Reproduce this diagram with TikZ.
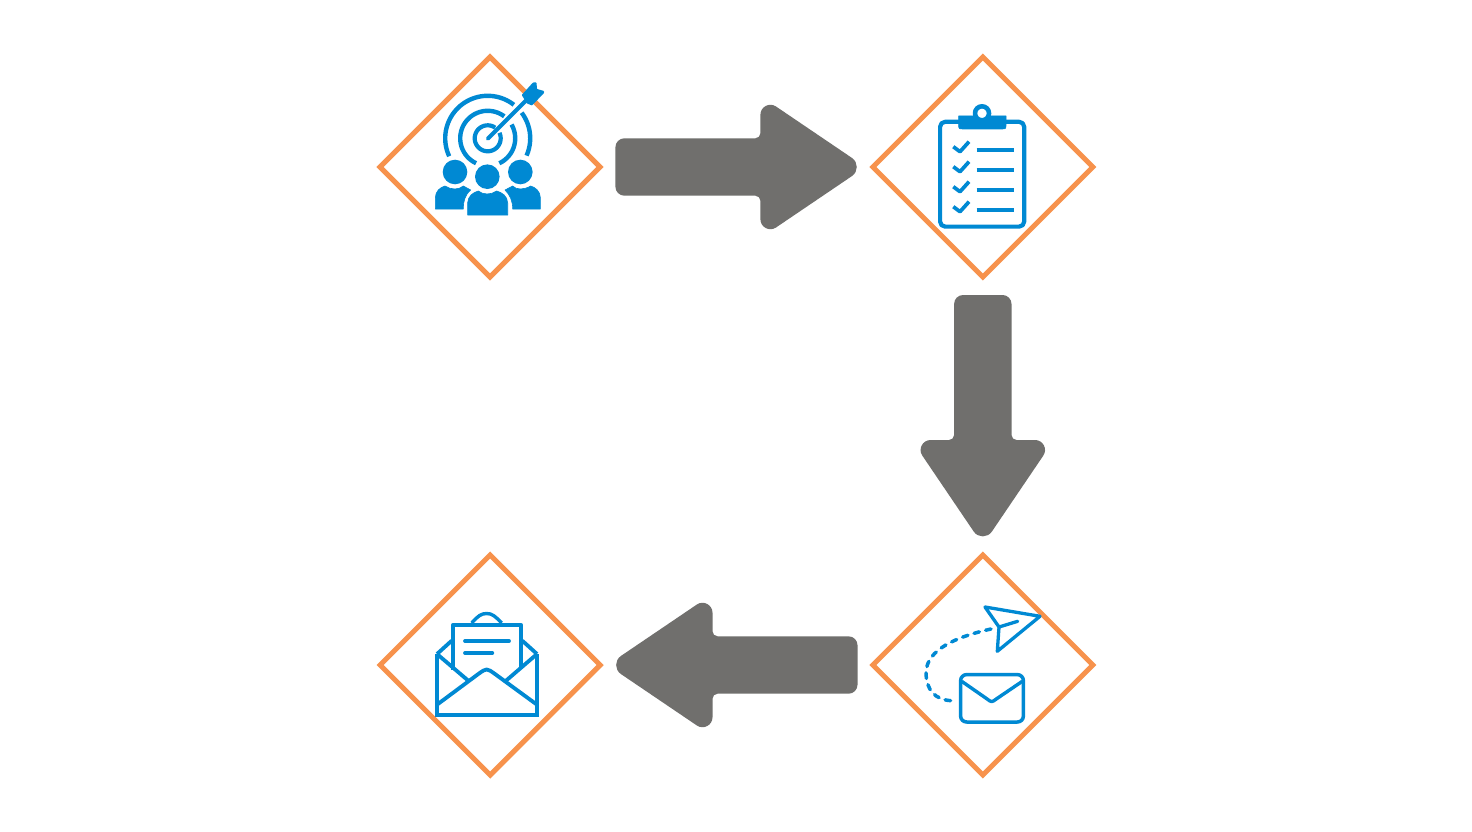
\documentclass[tikz,border=0pt]{standalone}
\usetikzlibrary{shapes.geometric,calc}
\definecolor{frameorange}{HTML}{F7924C}
\definecolor{arrowgray}{HTML}{706F6D}
\definecolor{iconblue}{HTML}{0089D3}
\tikzset{
  frame/.style={shape=diamond,shape aspect=1,draw=frameorange,line width=5pt,fill=white,
    minimum width=220pt,minimum height=220pt,inner sep=0pt,outer sep=0pt,miter limit=10},
  icon/.style={draw=iconblue,line join=round},
  iconfill/.style={fill=iconblue,draw=iconblue,line width=0.6pt,line join=round},
  blockarrow/.pic={
    \fill[arrowgray] (-121,0) -- (-121,-19.7) .. controls (-121,-24.7) and (-117,-28.7) .. (-112,-28.7)
      -- (19,-28.7) .. controls (21.75,-28.7) and (24,-31) .. (24,-33.7)
      -- (24,-52.2) .. controls (24,-60.2) and (33,-65) .. (39.6,-60.5)
      -- (115.5,-9.1) .. controls (122,-4.7) and (122,4.7) .. (115.5,9.1)
      -- (39.6,60.5) .. controls (33,65) and (24,60.2) .. (24,52.2)
      -- (24,33.7) .. controls (24,31) and (21.75,28.7) .. (19,28.7)
      -- (-112,28.7) .. controls (-117,28.7) and (-121,24.7) .. (-121,19.7) -- cycle;
  }
}
\newcommand{\ringarc}[6]{% cx cy r from to width
  \draw[draw=iconblue,line width=#6pt,smooth] plot[domain=#4:#5,samples=40] ({#1+#3*cos(\x)},{#2-#3*sin(\x)});}
\begin{document}
\begin{tikzpicture}[x=1pt,y=-1pt]
\useasboundingbox (0,0) rectangle (1472,832);
\fill[white] (0,0) rectangle (1472,832);
\node[frame] (a) at (490,167) {};
\node[frame] (b) at (982.8,167) {};
\node[frame] (c) at (982.8,665) {};
\node[frame] (d) at (490.2,665) {};
\pic at ($(a)!0.5!(b)$) {blockarrow};
\pic[rotate=-90] at ($(b)!0.5!(c)$) {blockarrow};
\pic[rotate=180] at ($(c)!0.5!(d)$) {blockarrow};
% target and people
\ringarc{487.7}{138.3}{42.5}{52}{205}{4.4}
\ringarc{487.7}{138.3}{42.5}{-24}{37}{4.4}
\ringarc{487.7}{138.3}{27.5}{53}{245}{4.4}
\ringarc{487.7}{138.3}{27.5}{-65}{30}{4.4}
\ringarc{487.7}{138.3}{13}{55}{385}{4.2}
\draw[icon,line width=3.9pt,line cap=round] (487.7,138.8) -- (526,100.5);
\fill[iconblue,rounded corners=0.6pt] (521.7,95) -- (533,82.5) -- (536.5,82.5) -- (537,89) -- (544,91) -- (544,93) -- (532,105.5) -- (527,103.5) -- cycle;
\fill[iconblue] (455,172) circle[radius=12.3];
\fill[iconblue] (487.3,176.7) circle[radius=12.3];
\fill[iconblue] (520.3,172) circle[radius=12.3];
\filldraw[iconfill] (435.3,209) -- (435.3,198) .. controls (435.5,191) and (440,187.5) .. (445,186) .. controls (451,190) and (459,190) .. (463.3,186) -- (470.7,190) .. controls (465,195) and (463.3,201) .. (463.3,209) -- cycle;
\filldraw[iconfill] (467.6,215) -- (467.6,203) .. controls (468,196) and (473,192.5) .. (478.3,191) .. controls (483,195) and (491,195) .. (496.7,191) .. controls (502,192.5) and (507.5,196) .. (507.7,203) -- (507.7,215) -- cycle;
\filldraw[iconfill] (540.4,209) -- (540.4,198) .. controls (540.2,191) and (535.5,187.5) .. (530.7,186) .. controls (524,190) and (516,190) .. (512.7,186) -- (505,190) .. controls (510,195) and (512.7,201) .. (512.7,209) -- cycle;
% clipboard
\draw[icon,line width=4.2pt,rounded corners=5pt] (940.1,121.8) rectangle (1024.2,226.6);
\filldraw[iconfill] (958.6,116) -- (1006,116) -- (1006,124) .. controls (1006,129) .. (1001,129) -- (964,129) .. controls (958.6,129) .. (958.6,124) -- cycle;
\draw[icon,line width=4.6pt,fill=white] (982,113.3) circle[radius=7];
\foreach \d in {0,20,40,60}{
  \draw[icon,line width=3.7pt] (953.3,146.7+\d) -- (960,151.7+\d) -- (969,141.7+\d);
  \draw[icon,line width=4.3pt] (976.7,150.3+\d) -- (1014.3,150.3+\d);
}
% paper plane and envelope
\draw[icon,line width=3.3pt] (985,607) -- (1040,616.3) -- (997.3,651.3) -- (999,627) -- cycle;
\draw[icon,line width=3.3pt,line cap=round] (999,627) -- (1017.7,621.3);
\draw[icon,line width=3.5pt,line cap=round,dash pattern=on 5.5pt off 6.5pt] (991,629) .. controls (955,637) and (927,650) .. (926,672) .. controls (926,690) and (935,700) .. (951.7,700.7);
\draw[icon,line width=3.5pt,rounded corners=6pt] (960.6,674.6) rectangle (1023.4,722);
\draw[icon,line width=3.4pt] (961.7,681.3) -- (986.7,698.7) .. controls (991.7,702.5) .. (996.7,698.7) -- (1022.3,681.3);
% open envelope
\draw[icon,line width=4pt,line join=miter] (437,654) -- (437,714.7) -- (537,714.7) -- (537,654);
\draw[icon,line width=3.8pt] (437,654) -- (451.7,640.7);
\draw[icon,line width=3.8pt] (537,654) -- (522.3,640.7);
\draw[icon,line width=3.8pt] (453.3,669.7) -- (453.3,624.7) -- (520.7,624.7) -- (520.7,668);
\draw[icon,line width=3.4pt] (471.7,623) .. controls (478,616) and (481,613.5) .. (486.7,613.5) .. controls (492,613.5) and (495,616) .. (501.7,623);
\draw[icon,line width=3.8pt,line cap=round] (465,641) -- (509,641);
\draw[icon,line width=3.8pt,line cap=round] (465,653) -- (492.3,653);
\draw[icon,line width=3.8pt] (437,704.7) -- (478.3,674) .. controls (486.7,668) .. (495,674) -- (537,704.7);
\draw[icon,line width=3.8pt] (437,654) -- (468.3,680.7);
\draw[icon,line width=3.8pt] (537,654) -- (506,680.7);
\end{tikzpicture}
\end{document}
